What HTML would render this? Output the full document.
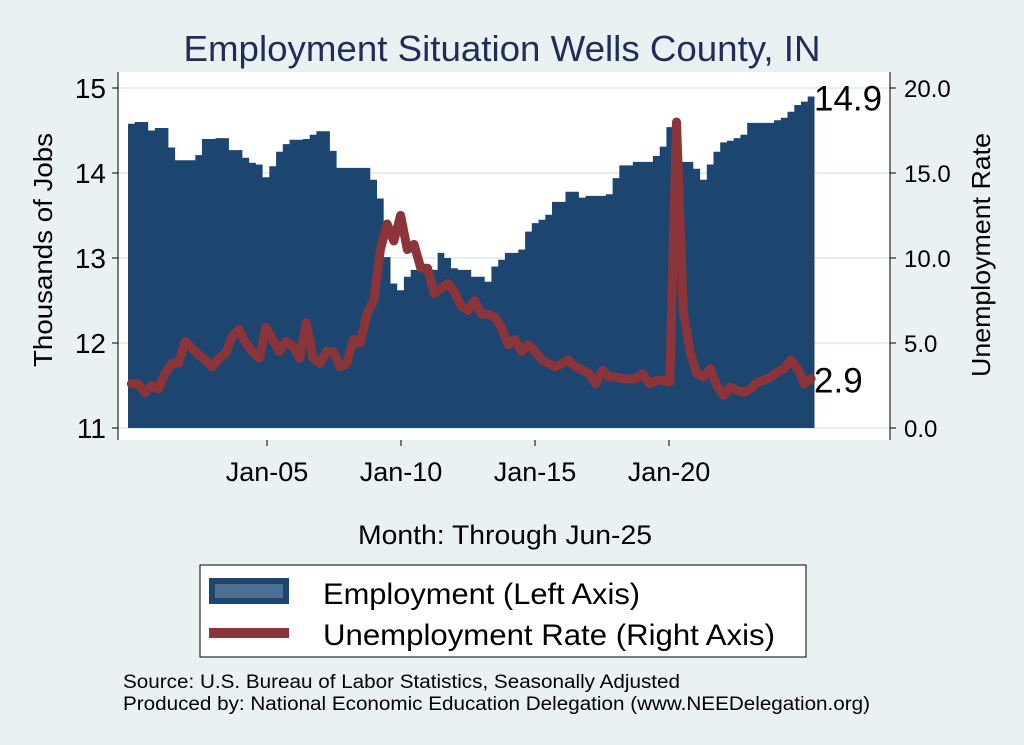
<!DOCTYPE html>
<html><head><meta charset="utf-8"><style>
body{margin:0;background:#eaf1f3;}
svg{display:block;font-family:"Liberation Sans",Arial,sans-serif;}
</style></head><body>
<svg id="chart" width="1024" height="745" viewBox="0 0 1024 745">
<rect x="0" y="0" width="1024" height="745" fill="#eaf1f3"/>
<text x="502" y="61" text-anchor="middle" font-size="36" fill="#1f2d57" textLength="637" lengthAdjust="spacingAndGlyphs">Employment Situation Wells  County, IN</text>
<rect x="118" y="72" width="772" height="368" fill="#ffffff"/>
<g id="grid"></g>
<path id="emp-area" fill="#1c4670"/>
<path id="ur-line" fill="none" stroke="#8b343a" stroke-width="9" stroke-linejoin="round" stroke-linecap="round"/>
<line x1="118" y1="72" x2="118" y2="440" stroke="#000"/>
<line x1="890" y1="72" x2="890" y2="440" stroke="#000"/>
<g id="ticks"></g>
<text x="0" y="0" transform="translate(52,250) rotate(-90)" text-anchor="middle" font-size="26" fill="#000" textLength="234" lengthAdjust="spacingAndGlyphs">Thousands of Jobs</text>
<text x="0" y="0" transform="translate(990,255) rotate(-90)" text-anchor="middle" font-size="26" fill="#000" textLength="244" lengthAdjust="spacingAndGlyphs">Unemployment Rate</text>
<text x="505" y="544" text-anchor="middle" font-size="27" fill="#000" textLength="294" lengthAdjust="spacingAndGlyphs">Month: Through Jun-25</text>
<text id="emp-last" x="814" y="112" font-size="35" fill="#000">14.9</text>
<text id="ur-last" x="814" y="394" font-size="35" fill="#000">2.9</text>
<g>
<rect x="200" y="565" width="606" height="92" fill="#fff" stroke="#000" stroke-width="1"/>
<rect x="209" y="578" width="80" height="26" fill="#1c4670"/>
<rect x="215" y="584" width="68" height="14" fill="#4d6f91"/>
<text x="323" y="604" font-size="30" fill="#000" textLength="317" lengthAdjust="spacingAndGlyphs">Employment (Left Axis)</text>
<rect x="209" y="628" width="80" height="10" fill="#8b343a"/>
<text x="323" y="645" font-size="30" fill="#000" textLength="452" lengthAdjust="spacingAndGlyphs">Unemployment Rate (Right Axis)</text>
</g>
<text x="123" y="688" font-size="19" fill="#000" textLength="557" lengthAdjust="spacingAndGlyphs">Source: U.S. Bureau of Labor Statistics, Seasonally Adjusted</text>
<text x="123" y="710" font-size="19" fill="#000" textLength="747" lengthAdjust="spacingAndGlyphs">Produced by: National Economic Education Delegation (www.NEEDelegation.org)</text>
</svg>
<script>
// Quarterly data, 2000Q1 .. 2025Q2
const employment = [14.58,14.60,14.60,14.50,14.53,14.53,14.30,14.15,14.15,14.15,14.21,14.40,14.40,14.41,14.41,14.27,14.27,14.18,14.12,14.10,13.95,14.08,14.25,14.34,14.39,14.39,14.40,14.45,14.49,14.49,14.26,14.06,14.06,14.06,14.06,14.06,13.92,13.70,13.01,12.70,12.62,12.78,12.86,12.86,12.86,12.86,13.06,13.00,12.88,12.86,12.86,12.78,12.78,12.72,12.90,12.98,13.06,13.06,13.10,13.31,13.41,13.45,13.51,13.66,13.66,13.78,13.78,13.71,13.73,13.73,13.73,13.75,13.94,14.09,14.09,14.13,14.13,14.13,14.20,14.31,14.54,14.59,14.13,14.13,14.05,13.92,14.10,14.25,14.36,14.38,14.41,14.45,14.59,14.59,14.59,14.59,14.62,14.65,14.72,14.80,14.84,14.90];
const unemployment = [2.6,2.6,2.1,2.5,2.3,3.2,3.8,3.8,5.1,4.7,4.3,4.0,3.6,4.1,4.4,5.4,5.8,5.0,4.5,4.1,5.9,5.2,4.5,5.1,4.8,4.1,6.2,4.1,3.8,4.5,4.5,3.6,3.8,5.2,5.0,6.7,7.5,10.5,12.0,11.0,12.5,10.5,10.8,9.4,9.4,7.9,8.2,8.5,8.0,7.2,6.9,7.5,6.7,6.7,6.5,5.9,4.9,5.2,4.5,4.9,4.5,4.0,3.8,3.6,3.8,4.0,3.6,3.4,3.2,2.6,3.4,3.0,3.0,2.9,2.9,2.9,3.2,2.6,2.8,2.8,2.7,18.0,6.9,4.5,3.2,3.0,3.5,2.5,1.9,2.4,2.2,2.1,2.3,2.7,2.8,3.0,3.3,3.5,4.0,3.5,2.6,2.9];
const leftTicks = [11,12,13,14,15];
const rightTicks = [0,5,10,15,20];
const xTickLabels = ["Jan-05","Jan-10","Jan-15","Jan-20"];
const xTickYears = [2005,2010,2015,2020];

const NS="http://www.w3.org/2000/svg";
const X0=128, PERQ=6.73;
function xq(i){return X0+i*PERQ;}
function xYear(y){return 128+(y-2000)*26.8+5;}
function yL(v){return 428-(v-11)*85;}
function yR(v){return 428-v*17;}

let d="M"+xq(0)+","+yL(11);
employment.forEach((v,i)=>{d+=" L"+xq(i).toFixed(1)+","+yL(v).toFixed(1)+" L"+(xq(i)+PERQ).toFixed(1)+","+yL(v).toFixed(1);});
d+=" L"+(xq(employment.length-1)+PERQ).toFixed(1)+","+yL(11)+" Z";
document.getElementById('emp-area').setAttribute('d',d);

let l="";
unemployment.forEach((v,i)=>{l+=(i?" L":"M")+(xq(i)+PERQ/2).toFixed(1)+","+yR(v).toFixed(1);});
document.getElementById('ur-line').setAttribute('d',l);

const grid=document.getElementById('grid'), ticks=document.getElementById('ticks');
leftTicks.forEach(v=>{
  const g=document.createElementNS(NS,'line');
  g.setAttribute('x1',118);g.setAttribute('x2',890);g.setAttribute('y1',yL(v));g.setAttribute('y2',yL(v));
  g.setAttribute('stroke','#e6eef1');g.setAttribute('stroke-width','2');
  
  
  grid.appendChild(g);
  const t=document.createElementNS(NS,'line');
  t.setAttribute('x1',112);t.setAttribute('x2',118);t.setAttribute('y1',yL(v));t.setAttribute('y2',yL(v));t.setAttribute('stroke','#000');
  
  
  ticks.appendChild(t);
  const tx=document.createElementNS(NS,'text');
  tx.setAttribute('x',106);tx.setAttribute('y',yL(v)+10);tx.setAttribute('text-anchor','end');tx.setAttribute('font-size','28');
  tx.textContent=v;
  
  
  ticks.appendChild(tx);
});
rightTicks.forEach(v=>{
  const t=document.createElementNS(NS,'line');
  t.setAttribute('x1',890);t.setAttribute('x2',896);t.setAttribute('y1',yR(v));t.setAttribute('y2',yR(v));t.setAttribute('stroke','#000');
  
  
  ticks.appendChild(t);
  const tx=document.createElementNS(NS,'text');
  tx.setAttribute('x',904);tx.setAttribute('y',yR(v)+9);tx.setAttribute('font-size','24');
  tx.textContent=v.toFixed(1);
  
  
  ticks.appendChild(tx);
});
xTickYears.forEach((y,i)=>{
  const t=document.createElementNS(NS,'line');
  t.setAttribute('x1',xYear(y));t.setAttribute('x2',xYear(y));t.setAttribute('y1',440);t.setAttribute('y2',446);t.setAttribute('stroke','#000');
  
  
  ticks.appendChild(t);
  const tx=document.createElementNS(NS,'text');
  tx.setAttribute('x',xYear(y));tx.setAttribute('y',481);tx.setAttribute('text-anchor','middle');tx.setAttribute('font-size','27');
  tx.textContent=xTickLabels[i];
  
  
  ticks.appendChild(tx);
});
document.getElementById('emp-last').setAttribute('y',yL(employment[employment.length-1])+14);
document.getElementById('ur-last').setAttribute('y',yR(unemployment[unemployment.length-1])+14);
</script>
</body></html>
